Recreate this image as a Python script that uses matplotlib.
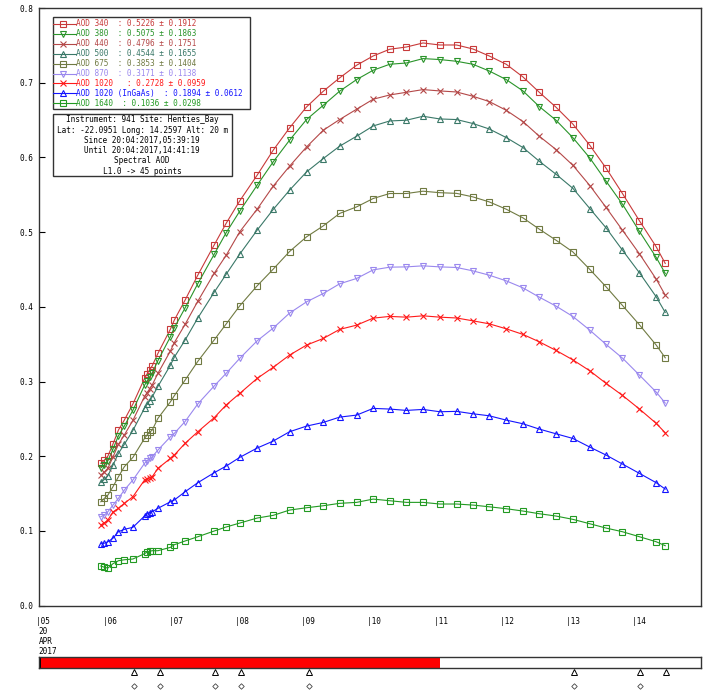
import matplotlib
matplotlib.use("Agg")
import matplotlib.pyplot as plt
from matplotlib import transforms
from matplotlib.patches import Rectangle

# --- data ----------------------------------------------------------------
hours = [5.938, 5.992, 6.045, 6.121, 6.204, 6.293, 6.422, 6.598, 6.635, 6.673,
         6.714, 6.800, 6.989, 7.047, 7.210, 7.402, 7.648, 7.829, 8.035, 8.298,
         8.540, 8.787, 9.044, 9.297, 9.543, 9.800, 10.050, 10.300, 10.552, 10.803,
         11.056, 11.309, 11.555, 11.802, 12.059, 12.312, 12.558, 12.811, 13.064, 13.321,
         13.567, 13.814, 14.071, 14.324, 14.460]

aod_340 = [0.1905, 0.1949, 0.2003, 0.2163, 0.2351, 0.2485, 0.2699, 0.3042, 0.3100, 0.3154,
           0.3211, 0.3377, 0.3702, 0.3822, 0.4090, 0.4424, 0.4826, 0.5116, 0.5418, 0.5762,
           0.6096, 0.6395, 0.6676, 0.6886, 0.7064, 0.7234, 0.7358, 0.7448, 0.7478, 0.7532,
           0.7505, 0.7505, 0.7452, 0.7358, 0.7247, 0.7077, 0.6872, 0.6672, 0.6448, 0.6163,
           0.5856, 0.5517, 0.5151, 0.4803, 0.4581]
aod_380 = [0.1845, 0.1885, 0.1940, 0.2095, 0.2275, 0.2405, 0.2615, 0.2950, 0.3005, 0.3060,
           0.3115, 0.3280, 0.3600, 0.3720, 0.3985, 0.4310, 0.4701, 0.4990, 0.5280, 0.5628,
           0.5940, 0.6230, 0.6507, 0.6698, 0.6886, 0.7042, 0.7167, 0.7247, 0.7264, 0.7323,
           0.7310, 0.7287, 0.7247, 0.7157, 0.7042, 0.6890, 0.6681, 0.6498, 0.6266, 0.5993,
           0.5682, 0.5374, 0.5009, 0.4661, 0.4447]
aod_440 = [0.1750, 0.1790, 0.1840, 0.1990, 0.2160, 0.2285, 0.2480, 0.2800, 0.2850, 0.2900,
           0.2955, 0.3110, 0.3410, 0.3520, 0.3765, 0.4075, 0.4447, 0.4688, 0.5004, 0.5307,
           0.5615, 0.5882, 0.6140, 0.6364, 0.6507, 0.6645, 0.6779, 0.6836, 0.6872, 0.6908,
           0.6890, 0.6876, 0.6819, 0.6748, 0.6631, 0.6480, 0.6284, 0.6106, 0.5896, 0.5624,
           0.5330, 0.5026, 0.4709, 0.4371, 0.4157]
aod_500 = [0.1650, 0.1690, 0.1740, 0.1880, 0.2040, 0.2160, 0.2345, 0.2645, 0.2695, 0.2745,
           0.2795, 0.2935, 0.3220, 0.3325, 0.3555, 0.3850, 0.4193, 0.4434, 0.4705, 0.5026,
           0.5303, 0.5561, 0.5806, 0.5985, 0.6150, 0.6284, 0.6421, 0.6488, 0.6498, 0.6551,
           0.6515, 0.6507, 0.6454, 0.6381, 0.6266, 0.6132, 0.5949, 0.5775, 0.5588, 0.5316,
           0.5057, 0.4759, 0.4455, 0.4134, 0.3925]
aod_675 = [0.1391, 0.1437, 0.1481, 0.1592, 0.1726, 0.1860, 0.1985, 0.2239, 0.2284, 0.2320,
           0.2351, 0.2507, 0.2729, 0.2810, 0.3019, 0.3270, 0.3555, 0.3769, 0.4013, 0.4281,
           0.4504, 0.4740, 0.4937, 0.5084, 0.5250, 0.5338, 0.5450, 0.5517, 0.5517, 0.5548,
           0.5528, 0.5519, 0.5472, 0.5405, 0.5307, 0.5191, 0.5040, 0.4892, 0.4736, 0.4501,
           0.4268, 0.4019, 0.3759, 0.3488, 0.3318]
aod_870 = [0.1191, 0.1213, 0.1258, 0.1347, 0.1437, 0.1548, 0.1682, 0.1905, 0.1940, 0.1972,
           0.1993, 0.2083, 0.2261, 0.2306, 0.2465, 0.2700, 0.2939, 0.3109, 0.3310, 0.3545,
           0.3715, 0.3916, 0.4067, 0.4179, 0.4308, 0.4380, 0.4495, 0.4531, 0.4535, 0.4549,
           0.4535, 0.4527, 0.4482, 0.4424, 0.4348, 0.4254, 0.4130, 0.4010, 0.3872, 0.3688,
           0.3497, 0.3314, 0.3086, 0.2859, 0.2712]
aod_1020 = [0.1080, 0.1110, 0.1147, 0.1254, 0.1303, 0.1370, 0.1458, 0.1682, 0.1699, 0.1712,
            0.1726, 0.1838, 0.1972, 0.2016, 0.2173, 0.2328, 0.2515, 0.2685, 0.2841, 0.3042,
            0.3190, 0.3354, 0.3488, 0.3577, 0.3698, 0.3755, 0.3849, 0.3872, 0.3862, 0.3880,
            0.3862, 0.3851, 0.3813, 0.3773, 0.3706, 0.3631, 0.3532, 0.3417, 0.3291, 0.3144,
            0.2975, 0.2815, 0.2632, 0.2440, 0.2314]
aod_1020i = [0.0829, 0.0837, 0.0856, 0.0902, 0.0991, 0.1022, 0.1049, 0.1200, 0.1227, 0.1244,
             0.1258, 0.1303, 0.1391, 0.1414, 0.1525, 0.1646, 0.1779, 0.1868, 0.1985, 0.2110,
             0.2203, 0.2328, 0.2404, 0.2453, 0.2524, 0.2551, 0.2641, 0.2632, 0.2614, 0.2627,
             0.2596, 0.2601, 0.2569, 0.2542, 0.2484, 0.2435, 0.2364, 0.2301, 0.2239, 0.2123,
             0.2016, 0.1896, 0.1771, 0.1646, 0.1561]
aod_1640 = [0.0531, 0.0514, 0.0504, 0.0562, 0.0602, 0.0615, 0.0625, 0.0696, 0.0718, 0.0728,
            0.0736, 0.0736, 0.0781, 0.0816, 0.0866, 0.0923, 0.0999, 0.1053, 0.1106, 0.1173,
            0.1209, 0.1280, 0.1311, 0.1338, 0.1370, 0.1383, 0.1427, 0.1405, 0.1383, 0.1383,
            0.1361, 0.1361, 0.1347, 0.1324, 0.1298, 0.1267, 0.1231, 0.1200, 0.1156, 0.1097,
            0.1039, 0.0990, 0.0923, 0.0856, 0.0803]

series = [aod_340, aod_380, aod_440, aod_500, aod_675, aod_870, aod_1020, aod_1020i, aod_1640]
names = ["AOD 340  ", "AOD 380  ", "AOD 440  ", "AOD 500  ", "AOD 675  ", "AOD 870  ",
         "AOD 1020   ", "AOD 1020 (InGaAs)  ", "AOD 1640  "]
means = ["0.5226", "0.5075", "0.4796", "0.4544", "0.3853", "0.3171", "0.2728", "0.1894", "0.1036"]
stds = ["0.1912", "0.1863", "0.1751", "0.1655", "0.1404", "0.1138", "0.0959", "0.0612", "0.0298"]
colors = ["#c83a3a", "#2a942a", "#b44848", "#3a7868", "#707a42", "#9a88ee", "#ff1a1a", "#1414ff", "#229a22"]
markers = ["s", "v", "x", "^", "s", "v", "x", "^", "s"]

info_lines = ["Instrument: 941 Site: Henties_Bay",
              "Lat: -22.0951 Long: 14.2597 Alt: 20 m",
              "Since 20:04:2017,05:39:19",
              "Until 20:04:2017,14:41:19",
              "Spectral AOD",
              "L1.0 -> 45 points"]

hour_ticks = [5, 6, 7, 8, 9, 10, 11, 12, 13, 14]
date_lines = ["20", "APR", "2017"]
bar_done = 11.06
tri_hours = [6.446, 6.831, 7.667, 8.061, 9.074, 13.088, 14.086, 14.479]
dia_hours = [6.446, 6.831, 7.667, 8.061, 9.074, 13.088, 14.086]

# --- figure -------------------------------------------------------------
W, H = 709, 690
FONT = "DejaVu Sans Mono"
FS = 5.6


def fx(px):
    return px / W


def fy(py):
    return 1 - py / H


fig = plt.figure(figsize=(W / 100, H / 100), dpi=100)
fig.patch.set_facecolor("white")

ax = fig.add_axes([fx(38.7), fy(605.7), fx(701) - fx(38.7), fy(8) - fy(605.7)])
for s, c, m in zip(series, colors, markers):
    ax.plot(hours, s, color=c, lw=0.8, marker=m, ms=4.8, mfc="none", mec=c, mew=0.8)

ax.set_xlim(5, 15)
ax.set_ylim(0, 0.8)
ax.set_yticks([i / 10 for i in range(9)])
ax.set_yticklabels([f"{i / 10:.1f}" for i in range(9)], fontfamily=FONT, fontsize=FS)
ax.tick_params(axis="y", direction="in", length=4, width=0.8, pad=4)
ax.set_xticks([])
for sp in ax.spines.values():
    sp.set_linewidth(1.0)
    sp.set_color("#333333")

# hour labels and date under the axis
trans = transforms.blended_transform_factory(ax.transData, fig.transFigure)
trans_l = transforms.offset_copy(trans, fig=fig, x=-2.4, y=0, units="dots")
for h in hour_ticks:
    ax.text(h, fy(622), f"|{h:02d}", transform=trans_l, ha="left", va="center",
            fontfamily=FONT, fontsize=FS, clip_on=False)
for i, t in enumerate(date_lines):
    ax.text(5, fy(631.7 + 10 * i), t, transform=trans, ha="left", va="center",
            fontfamily=FONT, fontsize=FS, clip_on=False)

# legend box
fig.patches.append(Rectangle((fx(52.7), fy(109.3)), fx(250) - fx(52.7), fy(17.3) - fy(109.3),
                             transform=fig.transFigure, fill=True, facecolor="white",
                             edgecolor="#333333", lw=1.0, zorder=5))
for i, (n, mu, sd, c, m) in enumerate(zip(names, means, stds, colors, markers)):
    yy = fy(24 + 9.9 * i)
    fig.add_artist(plt.Line2D([fx(53.3), fx(76)], [yy, yy], color=c, lw=0.8,
                              transform=fig.transFigure, zorder=6))
    fig.add_artist(plt.Line2D([fx(62.7)], [yy], color=c, marker=m, ms=5, mfc="none",
                              mew=0.8, transform=fig.transFigure, zorder=6))
    fig.text(fx(76.5), yy, f"{n}: {mu} ± {sd}", color=c, ha="left", va="center",
             fontfamily=FONT, fontsize=FS, zorder=7)

# info box
fig.patches.append(Rectangle((fx(52.7), fy(175.7)), fx(231.7) - fx(52.7), fy(114.3) - fy(175.7),
                             transform=fig.transFigure, fill=True, facecolor="white",
                             edgecolor="#333333", lw=1.0, zorder=5))
for i, t in enumerate(info_lines):
    fig.text(fx(142.2), fy(120 + 10.2 * i), t, ha="center", va="center",
             fontfamily=FONT, fontsize=FS, zorder=7)

# progress bar under the plot
axb = fig.add_axes([fx(38.7), fy(667.7), fx(701) - fx(38.7), fy(656.7) - fy(667.7)])
axb.set_xlim(5, 15)
axb.set_ylim(0, 1)
axb.axvspan(5, 5.04, color="black", lw=0)
axb.axvspan(5.04, bar_done, color="#ff0000", lw=0)
axb.set_xticks([])
axb.set_yticks([])
for sp in axb.spines.values():
    sp.set_linewidth(1.0)
    sp.set_color("#333333")

transb = transforms.blended_transform_factory(axb.transData, fig.transFigure)
axb.plot(tri_hours, [fy(671.7)] * len(tri_hours), ls="none", marker="^", ms=4.2,
         mfc="none", mec="black", mew=0.7, transform=transb, clip_on=False)
axb.plot(dia_hours, [fy(686)] * len(dia_hours), ls="none", marker="D", ms=2.8,
         mfc="none", mec="#444444", mew=0.6, transform=transb, clip_on=False)
axb.set_xlim(5, 15)
axb.set_ylim(0, 1)

fig.savefig("out.png", dpi=100)
